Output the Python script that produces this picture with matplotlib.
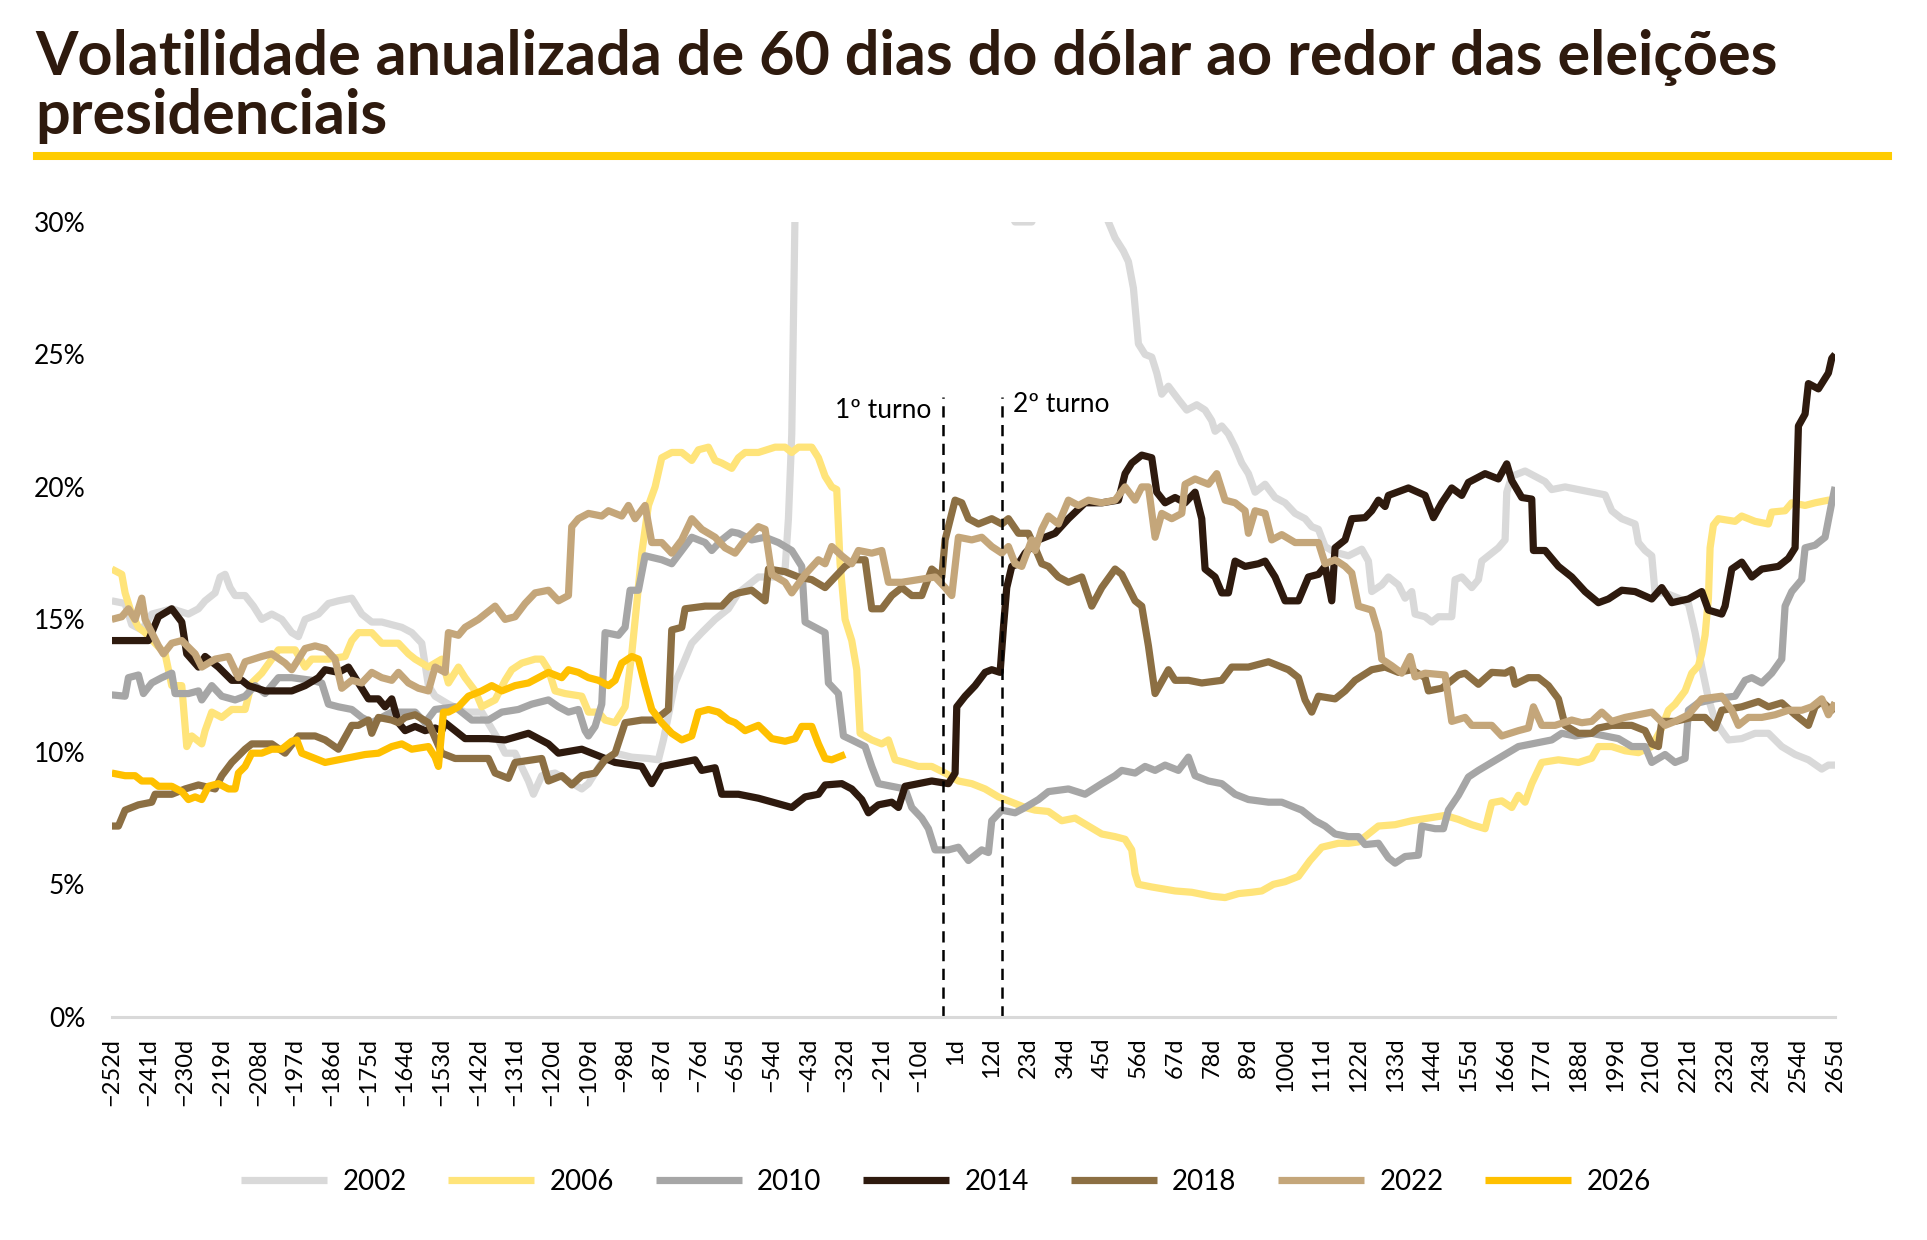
import matplotlib
matplotlib.use("Agg")
import matplotlib.pyplot as plt
import numpy as np

plt.rcParams["font.family"] = ["Lato", "DejaVu Sans"]

TITLE = ["Volatilidade anualizada de 60 dias do dólar ao redor das eleições", "presidenciais"]
DARK = "#2e1a0e"

years = ["2002", "2006", "2010", "2014", "2018", "2022", "2026"]
colors = ["#d9d9d9", "#ffe47a", "#a6a6a6", "#2e1a0e", "#8c6f43", "#c4a67a", "#ffc000"]

# days relative to the 1st round, values in %
days_2002 = [-252, -248, -246, -243, -240, -234, -229, -226, -224, -221, -219.5, -218, -216.5, -215, -212,
             -209.5, -207, -204, -201, -198, -196, -194, -190, -187, -184, -180, -177, -174, -171, -168,
             -165, -162, -159, -157, -155, -151, -146, -141, -136, -134, -131, -127, -125.5, -123, -119,
             -115, -111, -109, -105, -101, -96, -91, -88, -86.5, -83, -80, -78, -75, -71, -67, -64, -62,
             -58, -53, -50, -49, -48, -47, -44, -30, 0, 15, 19, 24, 27, 40, 46, 49, 51.5, 53, 54.5, 56, 58,
             60, 61.5, 63, 65, 68, 70.5, 73.5, 76, 78, 79, 81, 83, 85, 87, 89, 91, 94, 97, 100, 103, 106,
             108, 110, 112, 114, 116, 119, 123, 125, 126, 129, 131, 134, 136, 138, 139, 142, 144, 146, 150,
             151, 153, 156, 158, 159, 161, 164, 166, 166.5, 168, 172, 175, 178, 180, 184, 188, 192, 196,
             198, 201, 205, 206, 208, 210, 211, 214, 218, 221, 223, 225, 227, 229, 231, 233, 237, 241, 245,
             249, 253, 257, 261, 263, 265]
vol_2002 = [15.7, 15.6, 14.8, 14.6, 15.2, 15.4, 15.2, 15.4, 15.7, 16.0, 16.6, 16.7, 16.2, 15.9, 15.9,
            15.5, 15.0, 15.2, 15.0, 14.5, 14.35, 15.0, 15.2, 15.6, 15.7, 15.8, 15.2, 14.9, 14.9, 14.8,
            14.7, 14.5, 14.1, 12.5, 12.1, 11.8, 11.5, 11.5, 10.45, 9.95, 9.95, 8.9, 8.4, 9.1, 9.2,
            8.9, 8.6, 8.8, 9.6, 9.95, 9.8, 9.75, 9.7, 10.45, 12.6, 13.5, 14.1, 14.5, 15.0, 15.4, 16.0, 16.2,
            16.6, 16.6, 16.9, 18.8, 22.0, 30.5, 34.0, 36.0, 35.0, 31.0, 30.0, 30.0, 31.0, 32.0, 30.3, 29.4, 28.9, 28.5, 27.5, 25.4, 25.0,
            24.9, 24.3, 23.5, 23.8, 23.3, 22.9, 23.1, 22.9, 22.5, 22.1, 22.3, 22.0, 21.5, 20.9, 20.5, 19.8, 20.1, 19.6, 19.4, 19.0, 18.8,
            18.5, 18.4, 17.75, 17.6, 17.5, 17.4, 17.65, 17.2, 16.05, 16.3, 16.6, 16.3, 15.8, 16.05, 15.2, 15.1, 14.9, 15.1, 15.1,
            16.5, 16.6, 16.2, 16.5, 17.2, 17.4, 17.7, 18.0, 19.8, 20.4, 20.6, 20.4, 20.2, 19.9, 20.0, 19.9, 19.8, 19.7,
            19.1, 18.8, 18.6, 17.9, 17.6, 17.4, 16.0, 16.0, 15.8, 15.6, 14.5, 13.2, 12.0, 11.2, 10.8, 10.45, 10.5, 10.7, 10.7,
            10.2, 9.9, 9.7, 9.35, 9.5, 9.5]

days_2006 = [-252, -249, -248, -246, -244, -242, -236, -234, -231, -229.5, -228, -225, -224, -222, -219, -216,
             -212, -210, -207, -202, -197, -194, -192, -187, -182, -180, -178, -174, -171, -166, -163, -161,
             -157, -153, -151, -148, -146, -143, -141, -137, -134, -132, -129, -125, -123, -121, -119, -116,
             -111, -109, -106, -104, -101, -98, -96, -93, -91, -89, -87, -84, -81, -78, -76, -73, -71, -69,
             -66, -64, -62, -58, -53, -50, -48, -46, -42, -40, -38, -36, -34.5, -33.5, -32, -30, -28.5, -27.5,
             -24, -21, -19, -17, -14, -10, -6, -2, 2, 6, 10, 14, 18, 22, 25, 29, 33, 37, 41, 45, 49, 52, 54,
             55, 56, 60, 67, 72, 78, 82, 86, 90, 93, 96.5, 100, 104, 107.5, 111, 116, 119, 122, 128, 133, 138,
             143, 148, 152, 156, 160, 162, 165, 168, 170, 172, 174, 177, 182, 188, 192, 194, 198, 202, 206,
             210, 213, 215, 217, 220, 222, 224, 225, 226, 227, 227.5, 228.5, 230, 235, 237, 241, 245, 246,
             250, 252, 256, 259, 263, 265]
vol_2006 = [16.9, 16.7, 16.0, 15.2, 14.7, 14.5, 13.7, 12.5, 12.5, 10.2, 10.6, 10.3, 10.8, 11.5, 11.3, 11.6,
            11.6, 12.6, 12.97, 13.85, 13.85, 13.2, 13.5, 13.5, 13.6, 14.2, 14.5, 14.5, 14.1, 14.1, 13.7, 13.5,
            13.2, 13.5, 12.6, 13.2, 12.8, 12.3, 11.7, 11.96, 12.7, 13.1, 13.35, 13.5, 13.5, 13.1, 12.3, 12.2,
            12.1, 11.5, 11.5, 11.2, 11.1, 11.7, 13.7, 17.5, 19.3, 20.0, 21.1, 21.3, 21.3, 21.0, 21.4, 21.5, 21.0, 20.9,
            20.7, 21.1, 21.3, 21.3, 21.5, 21.5, 21.3, 21.5, 21.5, 21.1, 20.4, 20.0, 19.9, 17.1, 15.0, 14.2, 13.1, 10.7,
            10.45, 10.3, 10.45, 9.7, 9.6, 9.45, 9.45, 9.2, 8.9, 8.8, 8.6, 8.3, 8.1, 7.9, 7.8, 7.75, 7.4, 7.5, 7.2, 6.9, 6.8, 6.7, 6.3,
            5.4, 5.0, 4.9, 4.75, 4.7, 4.55, 4.5, 4.65, 4.7, 4.75, 5.0, 5.1, 5.3, 5.9, 6.4, 6.55, 6.55, 6.6, 7.2, 7.25, 7.4,
            7.5, 7.6, 7.45, 7.25, 7.1, 8.08, 8.15, 7.9, 8.36, 8.1, 8.8, 9.6, 9.7, 9.6, 9.76, 10.2, 10.2, 10.04, 9.97,
            10.2, 10.9, 11.57, 11.8, 12.3, 12.97, 13.25, 13.7, 14.4, 15.8, 17.7, 18.56, 18.8, 18.7, 18.9, 18.7, 18.6, 19.05,
            19.1, 19.4, 19.3, 19.4, 19.5, 19.5]

days_2010 = [-252, -248, -247, -244, -242.5, -240, -237, -234, -233, -229, -226, -225, -222, -219, -215, -212,
             -209, -206, -202, -198, -192, -189, -187, -184, -180, -177, -174, -168, -164, -161, -158, -155,
             -149, -144, -139, -135, -130, -126, -121, -118, -115, -112, -110, -109, -107, -105, -104, -100,
             -98, -96.5, -94, -92, -87, -84, -81, -78, -74, -72, -69, -66, -64, -60, -56, -52, -48, -45, -44,
             -41, -38, -37, -34, -32.5, -30, -26, -24, -22, -18, -14, -12, -9, -7, -5, -1, 2, 5, 9, 11, 12,
             15, 19, 22, 26, 29, 35, 40, 45, 49, 51, 55, 58, 61, 64, 68, 71, 73, 77, 81, 85, 89, 95, 99, 105,
             109, 112, 115, 119, 122, 124, 128, 131, 133, 136, 140, 141, 145, 147.5, 149, 152, 155, 158, 162,
             166, 170, 174, 180, 183, 187, 192, 196, 200, 204, 208, 210, 214, 217, 220, 221, 224, 229, 235,
             238, 240, 243, 246, 249, 250, 252, 255, 256, 259, 262, 264, 265]
vol_2010 = [12.15, 12.1, 12.8, 12.9, 12.2, 12.6, 12.8, 12.97, 12.2, 12.2, 12.3, 11.96, 12.5, 12.1, 11.96, 12.1,
            12.5, 12.2, 12.8, 12.8, 12.7, 12.6, 11.8, 11.7, 11.6, 11.3, 11.1, 11.5, 11.5, 11.5, 11.1, 11.6,
            11.7, 11.2, 11.2, 11.5, 11.6, 11.8, 11.96, 11.7, 11.5, 11.6, 10.8, 10.6, 10.96, 11.8, 14.5, 14.4,
            14.7, 16.1, 16.1, 17.4, 17.25, 17.1, 17.6, 18.1, 17.9, 17.6, 18.0, 18.3, 18.25, 18.0, 18.1, 17.9, 17.6, 17.0, 14.9,
            14.7, 14.5, 12.6, 12.2, 10.6, 10.45, 10.2, 9.45, 8.8, 8.7, 8.6, 7.9, 7.5, 7.1, 6.3, 6.3, 6.4, 5.9, 6.3, 6.2, 7.4,
            7.8, 7.7, 7.9, 8.2, 8.5, 8.6, 8.4, 8.8, 9.1, 9.3, 9.2, 9.45, 9.3, 9.5, 9.3, 9.8, 9.1, 8.9, 8.8, 8.4, 8.2, 8.1, 8.1, 7.8,
            7.4, 7.2, 6.9, 6.8, 6.8, 6.5, 6.55, 6.0, 5.8, 6.05, 6.1, 7.2, 7.1, 7.1, 7.8, 8.36, 9.05, 9.3, 9.6,
            9.9, 10.2, 10.3, 10.45, 10.7, 10.6, 10.7, 10.6, 10.5, 10.2, 10.2, 9.6, 9.9, 9.6, 9.75, 11.57, 11.85, 12.0, 12.1,
            12.7, 12.8, 12.6, 12.97, 13.5, 15.5, 16.05, 16.5, 17.7, 17.8, 18.1, 19.4, 20.0]

days_2014 = [-252, -244, -241, -238, -234, -231, -229.5, -226, -224, -220, -216, -213, -211, -206, -198, -194,
             -190, -188, -184, -181, -178, -175, -172, -170, -168, -166, -164, -161, -158, -155, -153, -152,
             -149, -146, -139, -134, -127, -121, -118, -111, -105, -101, -93, -90, -87, -81, -77, -75, -71,
             -69, -64, -58, -48, -44, -40, -38, -33, -30, -27, -25, -22, -18, -16, -14, -10, -6, -1, 1, 1.5,
             4, 7, 10, 12, 14.5, 15.5, 16.5, 18, 20, 22, 26, 31, 35, 40, 45, 50, 52, 54, 57, 60, 61.5, 64, 67,
             70, 73, 75, 76, 79, 81, 83, 85, 88, 92, 94, 97, 100, 104, 107, 110, 112, 114, 115, 118, 120, 124,
             126, 128, 130, 131, 137, 142, 144.5, 147, 150, 153, 155, 160, 164, 166.5, 168, 171, 174, 174.5,
             178, 182, 186, 190, 194, 197, 201, 205, 210, 213, 216, 221, 225, 227, 231, 232, 234, 237, 240,
             243, 248, 251, 253, 254, 256, 257, 260, 263, 264, 265]
vol_2014 = [14.2, 14.2, 14.2, 15.1, 15.4, 14.9, 13.7, 13.2, 13.6, 13.2, 12.7, 12.7, 12.5, 12.3, 12.3, 12.5,
            12.8, 13.1, 13.0, 13.2, 12.6, 12.0, 12.0, 11.7, 12.0, 11.1, 10.8, 10.96, 10.8, 10.9, 10.8, 11.1,
            10.8, 10.5, 10.5, 10.45, 10.7, 10.3, 9.95, 10.1, 9.8, 9.6, 9.45, 8.8, 9.45, 9.6, 9.7, 9.3, 9.4,
            8.4, 8.4, 8.25, 7.9, 8.3, 8.4, 8.75, 8.8, 8.6, 8.2, 7.7, 8.0, 8.1, 7.9, 8.7, 8.8, 8.9, 8.8, 9.2, 11.7,
            12.1, 12.5, 13.0, 13.1, 13.0, 14.7, 16.2, 17.0, 17.1, 17.5, 18.0, 18.25, 18.8, 19.4, 19.4, 19.5, 20.5, 20.9, 21.2, 21.1, 19.8, 19.4, 19.6,
            19.4, 19.8, 18.8, 16.9, 16.6, 16.0, 16.0, 17.2, 17.0, 17.1, 17.2, 16.6, 15.7, 15.7, 16.6, 16.7, 17.0, 15.7, 17.7, 18.0, 18.8, 18.84,
            19.1, 19.5, 19.26, 19.68, 19.96, 19.68, 18.84, 19.4, 19.96, 19.68, 20.17, 20.5, 20.3, 20.87, 20.24, 19.6, 19.54, 17.6,
            17.6, 17.0, 16.6, 16.05, 15.63, 15.77, 16.1, 16.05, 15.77, 16.2, 15.63, 15.77, 16.05, 15.35, 15.2, 15.5, 16.9, 17.16, 16.6,
            16.9, 17.0, 17.3, 17.7, 22.3, 22.75, 23.9, 23.7, 24.3, 24.85, 25.0]

days_2018 = [-252, -250, -248, -244, -240, -239, -234, -230, -226, -221, -219, -216, -212, -210, -204, -200,
             -196, -191, -188, -184, -180, -178, -175, -174, -172, -168, -166, -164, -161, -157, -153, -149,
             -139, -137, -133, -131, -123, -121, -117, -114, -111, -107, -104, -101, -98, -93, -89, -85, -84,
             -81, -80, -74, -69, -66, -64, -60, -56, -55, -50, -46, -42, -38, -35, -32, -29, -26, -24, -21,
             -18, -15, -12, -9, -6, -3, -2, 1, 3, 5, 8, 12, 15, 17, 20, 23, 25, 27, 29, 32, 35, 39, 42, 45, 49,
             51, 55, 57, 59, 61, 65, 67, 71, 75, 81, 84, 89, 95, 101, 104, 106, 108, 110, 115, 118, 121, 126,
             130, 134, 138, 142, 143, 147, 152, 154, 158, 162, 166, 168, 169, 173, 176, 179, 182, 184, 188,
             192, 194, 198, 204, 208, 210, 212, 213, 217, 222, 226, 229, 231, 237, 242, 245, 249, 253, 257,
             259, 261, 264, 265]
vol_2018 = [7.2, 7.2, 7.8, 8.0, 8.1, 8.4, 8.4, 8.6, 8.75, 8.6, 9.1, 9.6, 10.1, 10.3, 10.3, 9.95,
            10.6, 10.6, 10.45, 10.1, 11.0, 11.0, 11.2, 10.7, 11.3, 11.2, 11.1, 11.3, 11.4, 11.1, 9.95, 9.75,
            9.75, 9.2, 9.0, 9.6, 9.75, 8.9, 9.1, 8.75, 9.1, 9.2, 9.7, 9.95, 11.1, 11.2, 11.2, 11.6, 14.6,
            14.7, 15.4, 15.5, 15.5, 15.9, 16.0, 16.1, 15.7, 16.9, 16.8, 16.6, 16.5, 16.2, 16.6, 17.0, 17.25, 17.25, 15.4, 15.4,
            15.9, 16.2, 15.9, 15.9, 16.9, 16.6, 18.0, 19.5, 19.4, 18.8, 18.6, 18.8, 18.6, 18.8, 18.25, 18.25, 17.7, 17.1, 17.0, 16.6, 16.4, 16.6, 15.5, 16.2, 16.9,
            16.7, 15.7, 15.5, 14.0, 12.2, 13.1, 12.7, 12.7, 12.6, 12.7, 13.2, 13.2, 13.4, 13.1, 12.8, 11.96, 11.5, 12.1, 12.0, 12.3, 12.7, 13.1,
            13.2, 13.0, 13.1, 12.8, 12.3, 12.4, 12.9, 12.97, 12.55, 13.0, 12.97, 13.1, 12.55, 12.8, 12.8, 12.5, 12.0, 11.0, 10.7,
            10.7, 10.9, 11.0, 11.0, 10.8, 10.3, 10.2, 11.15, 11.15, 11.3, 11.3, 10.9, 11.57, 11.7, 11.9, 11.7, 11.85, 11.4, 11.0,
            11.7, 11.9, 11.57, 11.85]

days_2022 = [-252, -249, -247, -245, -243, -242, -240, -238, -236.5, -234, -231, -227, -225, -221, -217, -214,
             -212, -207, -204, -200, -198, -194, -191, -188, -185, -183, -180, -177, -174, -171, -168, -166,
             -163, -160, -157, -155, -152, -151, -148, -146, -142, -137, -134, -131, -128, -125, -121, -118,
             -115, -114, -112, -109, -105, -103, -99, -97, -95, -92, -90, -87, -84, -81, -78, -75, -71, -68,
             -65, -62, -58, -56, -54, -50, -48, -44, -40, -38, -36, -33, -30, -28, -24, -21, -19, -15, -10, -5,
             -2, 0, 2, 6, 9, 12, 15, 17, 19, 21, 24, 25, 27, 29, 32, 35, 38, 41, 45, 49, 52, 55, 57, 59, 61,
             63, 66, 69, 70, 73, 77, 79.5, 82, 85, 88, 89, 91, 94, 96, 99, 103, 108, 110, 112, 115, 118, 120,
             122, 126, 128, 129, 132, 135, 137.5, 139, 142, 148, 150, 154, 156, 162, 165, 170, 173, 174.5, 177,
             181, 186, 189, 192, 195, 198, 202, 206, 210, 214, 217, 221, 225, 231, 234, 236, 239, 243, 247,
             251, 255, 258, 261, 263, 265]
vol_2022 = [15.0, 15.1, 15.4, 15.0, 15.8, 15.0, 14.5, 14.0, 13.7, 14.1, 14.2, 13.7, 13.2, 13.5, 13.6, 12.8,
            13.4, 13.6, 13.7, 13.35, 13.1, 13.9, 14.0, 13.9, 13.5, 12.4, 12.7, 12.6, 13.0, 12.8, 12.7, 13.0,
            12.6, 12.4, 12.3, 13.2, 13.0, 14.5, 14.4, 14.7, 15.0, 15.5, 15.0, 15.1, 15.6, 16.0, 16.1, 15.7,
            15.9, 18.5, 18.8, 19.0, 18.9, 19.1, 18.9, 19.3, 18.8, 19.3, 17.9, 17.9, 17.5, 18.0, 18.8, 18.4, 18.1, 17.7,
            17.5, 18.0, 18.5, 18.4, 16.7, 16.4, 16.0, 16.7, 17.25, 17.1, 17.75, 17.4, 17.1, 17.6, 17.5, 17.6, 16.4, 16.4, 16.5, 16.6,
            16.2, 15.9, 18.1, 18.0, 18.1, 17.75, 17.5, 17.75, 17.1, 17.0, 18.0, 17.6, 18.4, 18.9, 18.6, 19.5, 19.3, 19.5, 19.4, 19.5, 20.0, 19.5, 20.0, 20.0, 18.1,
            19.0, 18.8, 19.0, 20.1, 20.3, 20.1, 20.5, 19.5, 19.4, 19.1, 18.25, 19.1, 19.0, 18.0, 18.2, 17.9, 17.9, 17.9, 17.1, 17.25, 17.0, 16.75,
            15.5, 15.35, 14.5, 13.5, 13.25, 12.97, 13.6, 12.83, 12.97, 12.9, 11.15, 11.3, 11.0, 11.0, 10.6, 10.8, 10.9, 11.7, 11.0,
            11.0, 11.2, 11.1, 11.15, 11.5, 11.15, 11.3, 11.4, 11.5, 11.0, 11.15, 11.4, 12.0, 12.1, 11.57, 11.0, 11.3, 11.3, 11.4,
            11.57, 11.57, 11.7, 12.0, 11.4, 11.85]

days_2026 = [-252, -248, -245, -243, -240, -238, -234, -231, -229, -227, -225, -223, -220, -217, -215, -214,
             -212, -210, -207, -204, -201, -198, -196.5, -195, -192, -188, -182, -176, -172, -168, -165, -162,
             -157, -155, -154, -152.5, -151, -148, -145, -141, -138, -135, -131, -127, -124, -121, -117, -115,
             -112, -109, -106, -103, -101, -99, -96, -94, -92, -90, -87, -84, -81, -78, -76, -73, -70, -67,
             -65, -62, -58, -54, -50, -47, -45, -42, -40, -38, -36, -34, -32]
vol_2026 = [9.2, 9.1, 9.1, 8.9, 8.9, 8.7, 8.7, 8.5, 8.2, 8.3, 8.2, 8.7, 8.8, 8.6, 8.6, 9.2,
            9.45, 9.95, 9.95, 10.1, 10.1, 10.4, 10.45, 9.95, 9.8, 9.6, 9.75, 9.9, 9.95, 10.2, 10.3, 10.1,
            10.2, 9.8, 9.45, 11.5, 11.5, 11.7, 12.1, 12.3, 12.5, 12.3, 12.5, 12.6, 12.8, 13.0, 12.8, 13.1,
            13.0, 12.8, 12.7, 12.5, 12.7, 13.35, 13.6, 13.5, 12.5, 11.6, 11.1, 10.7, 10.45, 10.6, 11.5, 11.6, 11.5, 11.2,
            11.1, 10.8, 11.0, 10.5, 10.4, 10.5, 10.96, 10.96, 10.3, 9.75, 9.7, 9.8, 9.9]

series_days = [days_2002, days_2006, days_2010, days_2014, days_2018, days_2022, days_2026]
series_vol = [vol_2002, vol_2006, vol_2010, vol_2014, vol_2018, vol_2022, vol_2026]

tick_days = list(range(-252, 266, 11))
tick_labels = [f"{d}d".replace("-", "\u2212") for d in tick_days]
round_days = [-2.5, 15]
round_labels = ["1º turno", "2º turno"]

fig = plt.figure(figsize=(19.27, 12.4), dpi=100)
ax = fig.add_axes([0.058, 0.18, 0.8943, 0.641])

for year, color, d, v in zip(years, colors, series_days, series_vol):
    ax.plot(d, v, color=color, lw=5.2, label=year, solid_joinstyle="round", solid_capstyle="butt")

for x in round_days:
    ax.plot([x, x], [0, 23.4], color="black", lw=1.8, ls=(0, (4.5, 3)), clip_on=False)
ax.text(round_days[0] - 3.5, 22.9, round_labels[0], ha="right", va="center", fontsize=19)
ax.text(round_days[1] + 3.5, 23.1, round_labels[1], ha="left", va="center", fontsize=19)

ax.set_xlim(-252, 265)
ax.set_ylim(0, 30)
ax.set_yticks(range(0, 31, 5))
ax.set_yticklabels([f"{v}%" for v in range(0, 31, 5)], fontsize=19)
ax.set_xticks(tick_days)
ax.set_xticklabels(tick_labels, rotation=90, fontsize=17)
ax.tick_params(axis="both", length=0)
ax.tick_params(axis="y", pad=19)
ax.tick_params(axis="x", pad=15)
for side in ["top", "right", "left"]:
    ax.spines[side].set_visible(False)
ax.spines["bottom"].set_color("#d9d9d9")
ax.spines["bottom"].set_linewidth(2.2)

# title: fit the first line to the reference width
probe = fig.text(0, 0, TITLE[0], fontsize=36, fontweight="bold")
fig.canvas.draw()
title_size = 36 * 1740 / probe.get_window_extent().width
probe.remove()
for line, base in zip(TITLE, [75, 134]):
    fig.text(35 / 1927, 1 - base / 1240, line, ha="left", va="baseline", fontsize=title_size,
             fontweight="bold", color=DARK)

fig.add_artist(plt.Line2D([37 / 1927, 1888 / 1927], [1 - 156 / 1240] * 2, color="#ffcc00", lw=5.8))

fig.legend(loc="center", bbox_to_anchor=(946 / 1927, 1 - 1182 / 1240), ncol=7, frameon=False,
           fontsize=20, handlelength=3.1, handletextpad=0.55, columnspacing=1.5)

fig.savefig("out.png", dpi=100)
